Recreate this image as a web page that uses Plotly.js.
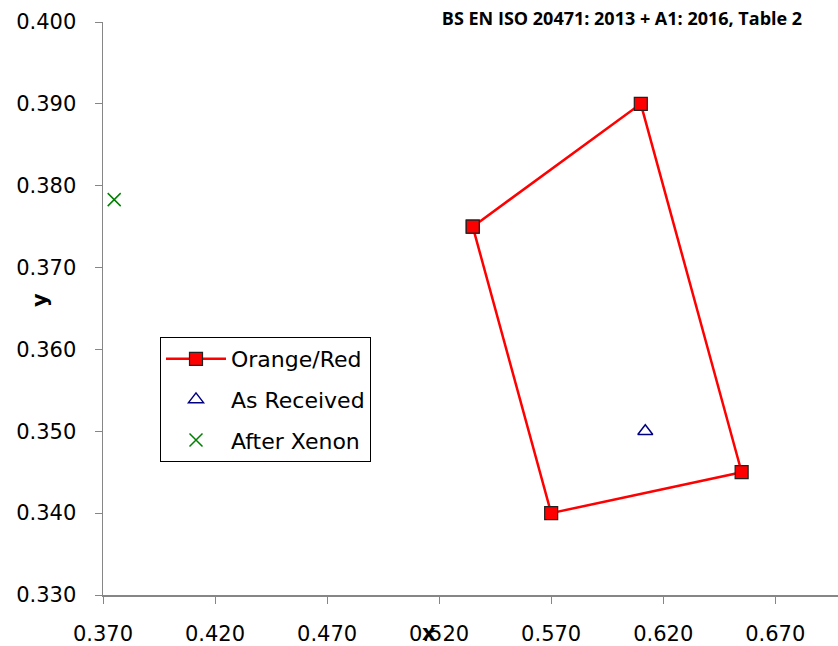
<!DOCTYPE html>
<html>
<head>
<meta charset="utf-8">
<script src="https://cdn.plot.ly/plotly-3.0.1.min.js"></script>
<style>html,body{margin:0;padding:0;background:#fff;}#chart{width:838px;height:646px;}</style>
</head>
<body>
<div id="chart"></div>
<script>
const boxX = [0.535, 0.610, 0.655, 0.570, 0.535];
const boxY = [0.375, 0.390, 0.345, 0.340, 0.375];
const receivedX = [0.612];
const receivedY = [0.350];
const xenonX = [0.375];
const xenonY = [0.3783];
const xTicks = [0.370, 0.420, 0.470, 0.520, 0.570, 0.620, 0.670];
const yTicks = [0.330, 0.340, 0.350, 0.360, 0.370, 0.380, 0.390, 0.400];

const FONT = "'DejaVu Sans', sans-serif";
const TFONT = "'Open Sans', sans-serif";

const traces = [
  {x: boxX, y: boxY, name: 'Orange/Red', legendgroup: 'a', mode: 'lines+markers', type: 'scatter',
   line: {color: '#ff0000', width: 2.5},
   marker: {symbol: 'square', size: 13, color: '#ff0000', line: {color: '#222', width: 1.2}}},
  {x: receivedX, y: receivedY, name: 'As Received', legendgroup: 'b', mode: 'markers', type: 'scatter',
   marker: {symbol: 'triangle-up-open', size: 13, color: '#000080', line: {width: 1.5}}},
  {x: xenonX, y: xenonY, name: 'After Xenon', legendgroup: 'c', mode: 'markers', type: 'scatter',
   marker: {symbol: 'x-thin-open', size: 13, color: '#008000', line: {color: '#008000', width: 1.5}}}
];

const layout = {
  width: 838, height: 646,
  margin: {l: 103, r: 0, t: 22, b: 51},
  paper_bgcolor: '#fff', plot_bgcolor: '#fff',
  font: {family: FONT, size: 21, color: '#000'},
  showlegend: true,
  title: {text: '<b>BS EN ISO 20471: 2013 + A1: 2016, Table 2</b>', x: 622/838, xref: 'container', xanchor: 'center',
          y: 1 - 19/646, yref: 'container', yanchor: 'middle', font: {family: TFONT, size: 18, color: '#000'}},
  xaxis: {range: [0.370, 0.698], tickvals: xTicks, ticktext: xTicks.map(v => v.toFixed(3)),
          showgrid: false, zeroline: false, showline: true, linecolor: '#868686', linewidth: 1.5,
          ticks: 'outside', ticklen: 7, tickcolor: '#868686', ticklabelstandoff: 12,
          tickfont: {family: FONT, size: 21}},
  yaxis: {range: [0.330, 0.400], tickvals: yTicks, ticktext: yTicks.map(v => v.toFixed(3)),
          showgrid: false, zeroline: false, showline: true, linecolor: '#868686', linewidth: 1.5,
          ticks: 'outside', ticklen: 7, tickcolor: '#868686', ticklabelstandoff: 14,
          tickfont: {family: FONT, size: 21}},
  legend: {x: (160-103)/735, y: (595-337)/573, xanchor: 'left', yanchor: 'top',
           bordercolor: '#000', borderwidth: 1, bgcolor: '#fff', tracegroupgap: 9, itemwidth: 60,
           font: {family: FONT, size: 22}},
  annotations: [
    {text: '<b>x</b>', xref: 'paper', yref: 'paper', x: (429-103)/735, y: (595-633)/573,
     showarrow: false, xanchor: 'center', yanchor: 'middle', font: {family: FONT, size: 21}},
    {text: '<b>y</b>', xref: 'paper', yref: 'paper', x: (40-103)/735, y: (595-300)/573,
     showarrow: false, xanchor: 'center', yanchor: 'middle', textangle: -90, font: {family: FONT, size: 21}}
  ]
};

Plotly.newPlot('chart', traces, layout, {displayModeBar: false, staticPlot: true});
</script>
</body>
</html>
